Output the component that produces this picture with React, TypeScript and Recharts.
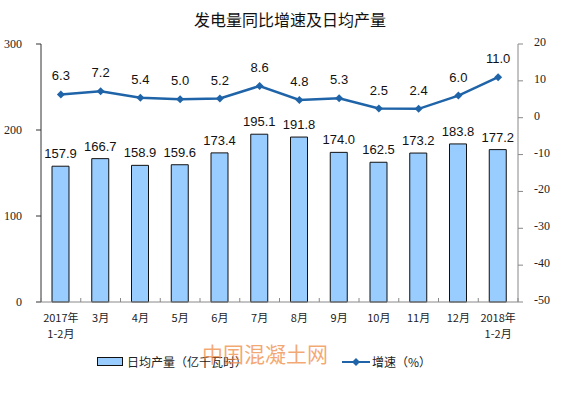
import React from 'react';
import { ComposedChart, Bar, Line, XAxis, YAxis, LabelList } from 'recharts';

const categories = ['2017年\n1-2月', '3月', '4月', '5月', '6月', '7月', '8月', '9月', '10月', '11月', '12月', '2018年\n1-2月'];
const dailyOutput = [157.9, 166.7, 158.9, 159.6, 173.4, 195.1, 191.8, 174.0, 162.5, 173.2, 183.8, 177.2];
const growth = [6.3, 7.2, 5.4, 5.0, 5.2, 8.6, 4.8, 5.3, 2.5, 2.4, 6.0, 11.0];
const leftTicks = [0, 100, 200, 300];
const rightTicks = [-50, -40, -30, -20, -10, 0, 10, 20];

const data = categories.map((c, i) => ({ name: c, output: dailyOutput[i], growth: growth[i] }));

const W = 580;
const H = 399;
const PLOT_LEFT = 41;
const PLOT_RIGHT = 518;
const BAND = (PLOT_RIGHT - PLOT_LEFT) / categories.length;

const numFont = '"Liberation Serif", serif';
const lblFont = '"Liberation Sans", Arial, sans-serif';
const cjk = '"Noto Sans CJK SC", sans-serif';

const XTick = (props: any) => {
  const { x, y, payload, index } = props;
  const lines = String(payload.value).split('\n');
  const axisY = y - 8;
  return (
    <g>
      <line x1={x - BAND / 2} x2={x - BAND / 2} y1={axisY} y2={axisY - 4} stroke="#888" />
      {index === categories.length - 1 && (
        <line x1={x + BAND / 2} x2={x + BAND / 2} y1={axisY} y2={axisY - 4} stroke="#888" />
      )}
      {lines.map((l, i) => (
        <text key={i} x={x} y={axisY + 20 + i * 16} textAnchor="middle" fontSize={11} fontFamily={cjk} fill="#222">
          {l}
        </text>
      ))}
    </g>
  );
};

const LeftTick = (props: any) => {
  const { x, y, payload } = props;
  return (
    <text x={x - 12} y={y + 4} textAnchor="end" fontSize={12} fontFamily={numFont} fill="#222">
      {payload.value}
    </text>
  );
};

const RightTick = (props: any) => {
  const { x, y, payload } = props;
  return (
    <text x={x + 9} y={y + 2} textAnchor="start" fontSize={12} fontFamily={numFont} fill="#222">
      {payload.value}
    </text>
  );
};

export default function App() {
  return (
    <div style={{ position: 'absolute', left: 0, top: 0, width: W, height: H, background: '#fff' }}>
      <div
        style={{
          position: 'absolute',
          left: 0,
          top: 7,
          width: W,
          textAlign: 'center',
          fontFamily: cjk,
          fontSize: 16,
          color: '#111',
        }}
      >
        发电量同比增速及日均产量
      </div>
      <ComposedChart
        width={W}
        height={H}
        data={data}
        margin={{ top: 44, right: 0, bottom: 0, left: 0 }}
      >
        <XAxis
          dataKey="name"
          axisLine={{ stroke: '#888' }}
          tickLine={false}
          tick={<XTick />}
          interval={0}
          height={97}
        />
        <YAxis
          yAxisId="left"
          orientation="left"
          width={41}
          domain={[0, 300]}
          ticks={leftTicks}
          interval={0}
          axisLine={{ stroke: '#333' }}
          tickLine={{ stroke: '#333' }}
          tickSize={5}
          tick={<LeftTick />}
        />
        <YAxis
          yAxisId="right"
          orientation="right"
          width={62}
          domain={[-50, 20]}
          ticks={rightTicks}
          interval={0}
          axisLine={{ stroke: '#888' }}
          tickLine={{ stroke: '#888' }}
          tickSize={5}
          tick={<RightTick />}
        />
        <Bar
          yAxisId="left"
          dataKey="output"
          fill="#99CCFF"
          stroke="#111"
          strokeWidth={1}
          barSize={17}
          isAnimationActive={false}
        >
          <LabelList
            dataKey="output"
            position="top"
            offset={8}
            formatter={(v: any) => Number(v).toFixed(1)}
            style={{ fontSize: 13, fontFamily: lblFont, fill: '#111' }}
          />
        </Bar>
        <Line
          yAxisId="right"
          dataKey="growth"
          stroke="#1F64A8"
          strokeWidth={2.5}
          dot={(p: any) => (
            <path
              key={p.index}
              d={`M${p.cx},${p.cy - 4}L${p.cx + 4},${p.cy}L${p.cx},${p.cy + 4}L${p.cx - 4},${p.cy}Z`}
              fill="#1F64A8"
            />
          )}
          isAnimationActive={false}
        >
          <LabelList
            dataKey="growth"
            position="top"
            offset={14}
            formatter={(v: any) => Number(v).toFixed(1)}
            style={{ fontSize: 13, fontFamily: lblFont, fill: '#111' }}
          />
        </Line>
      </ComposedChart>
      <div
        style={{
          position: 'absolute',
          left: 97,
          top: 353,
          display: 'flex',
          alignItems: 'center',
          fontFamily: cjk,
          fontSize: 12,
          color: '#222',
          whiteSpace: 'nowrap',
        }}
      >
        <div style={{ width: 24, height: 7, background: '#99CCFF', border: '1px solid #111', marginRight: 4 }} />
        <span>日均产量（亿千瓦时）</span>
      </div>
      <div
        style={{
          position: 'absolute',
          left: 342,
          top: 353,
          display: 'flex',
          alignItems: 'center',
          fontFamily: cjk,
          fontSize: 12,
          color: '#222',
          whiteSpace: 'nowrap',
        }}
      >
        <svg width={28} height={10} style={{ marginRight: 2 }}>
          <line x1={0} x2={28} y1={5} y2={5} stroke="#1F64A8" strokeWidth={2} />
          <path d="M14,1L18,5L14,9L10,5Z" fill="#1F64A8" />
        </svg>
        <span>增速（%）</span>
      </div>
      <div
        style={{
          position: 'absolute',
          left: 195,
          top: 339,
          width: 140,
          textAlign: 'center',
          fontFamily: cjk,
          fontSize: 21,
          lineHeight: '28px',
          whiteSpace: 'nowrap',
          color: 'rgba(240,140,70,0.75)',
        }}
      >
        中国混凝土网
      </div>
    </div>
  );
}
